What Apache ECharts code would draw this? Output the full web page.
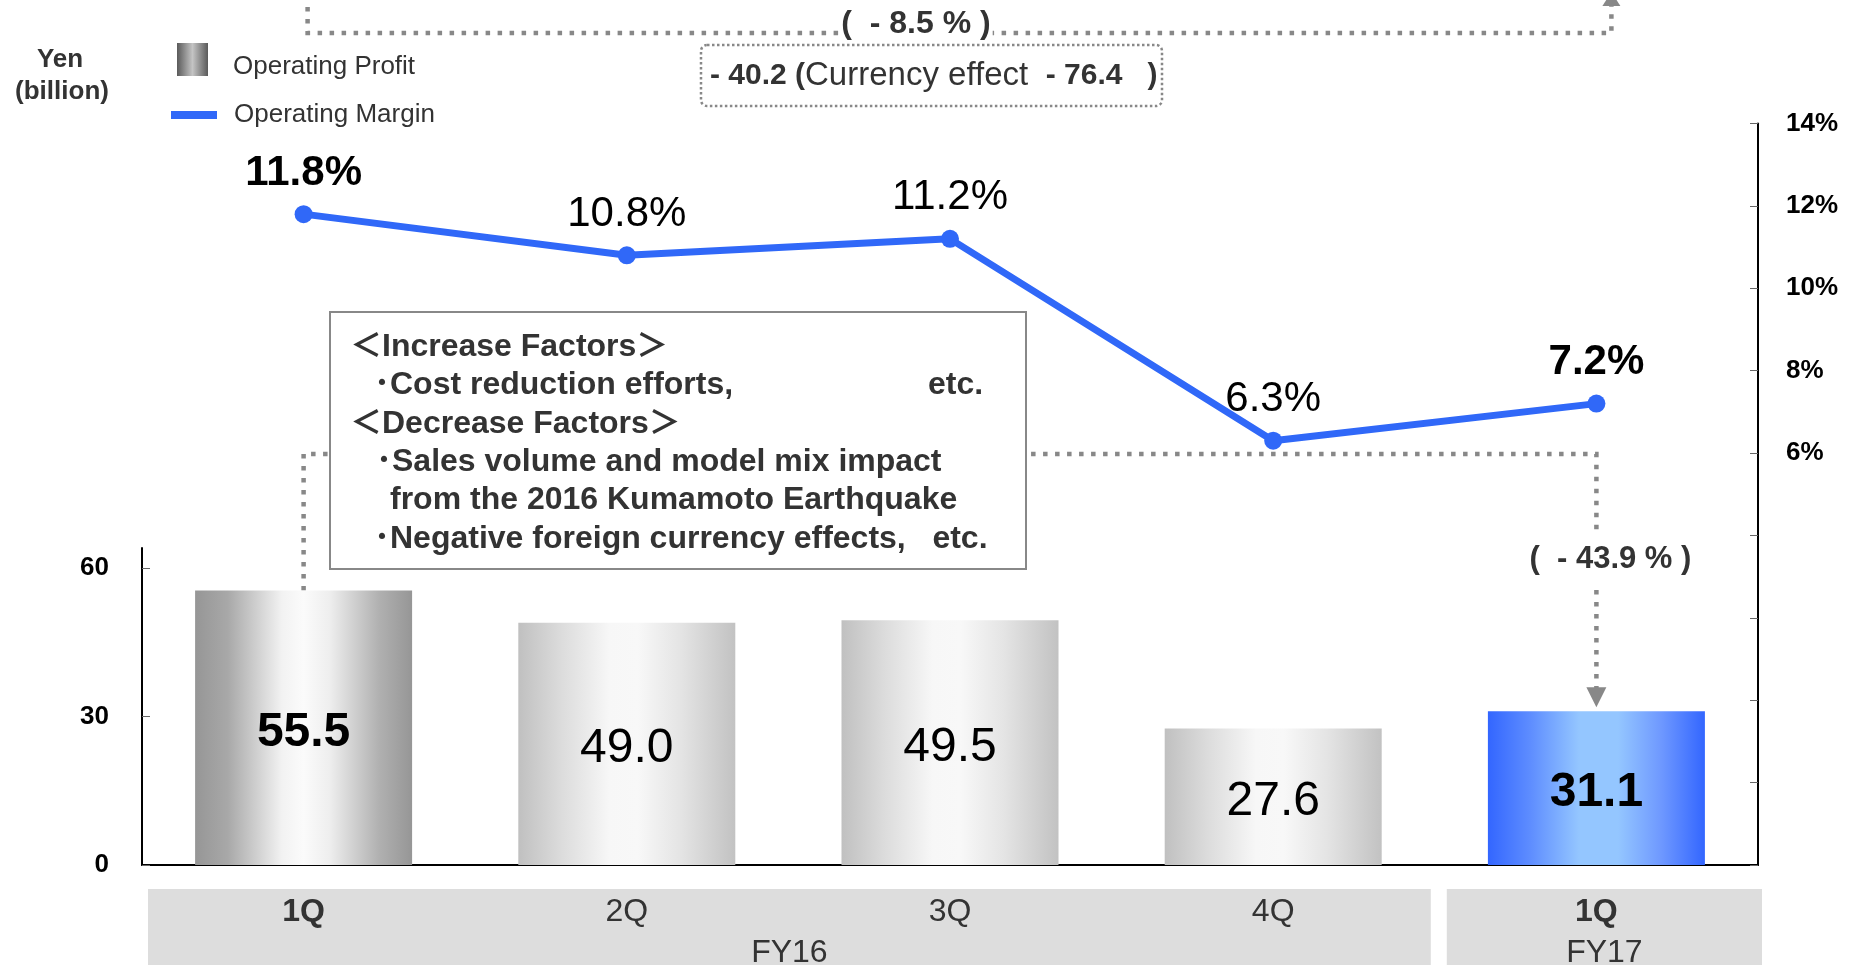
<!DOCTYPE html>
<html>
<head>
<meta charset="utf-8">
<script src="https://cdn.jsdelivr.net/npm/echarts@6.0.0/dist/echarts.min.js"></script>
<style>
  html, body { margin: 0; padding: 0; background: #fff; }
  #main { width: 1863px; height: 965px; }
</style>
</head>
<body>
<div id="main"></div>
<script>
// values
const quarters = ['1Q', '2Q', '3Q', '4Q', '1Q'];
const fiscalYears = ['FY16', 'FY16', 'FY16', 'FY16', 'FY17'];
const operatingProfit = [55.5, 49.0, 49.5, 27.6, 31.1];
const operatingMargin = [11.8, 10.8, 11.2, 6.3, 7.2];
const boldPoints = [0, 4];
const profitTicks = [0, 30, 60];
const marginMin = -4, marginMax = 14, marginStep = 2, marginLabelFrom = 6;

const yearChange = '(  - 8.5 % )';
const quarterChange = '(  - 43.9 % )';
const currencyParts = ['- 40.2 (', 'Currency effect ', ' - 76.4   )'];
const factorLines = [
  '＜Increase Factors＞',
  '･Cost reduction efforts,',
  '＜Decrease Factors＞',
  '･Sales volume and model mix impact',
  'from the 2016 Kumamoto Earthquake',
  '･Negative foreign currency effects,   etc.'
];
const factorEtc = 'etc.';

const FONT = '"Liberation Sans", Arial, "Noto Sans CJK JP", sans-serif';
const BLUE = '#3068f8';
const DOT = '#888888';

function hGrad(stops) {
  return new echarts.graphic.LinearGradient(0, 0, 1, 0,
    stops.map(s => ({offset: s[0], color: s[1]})));
}
const darkGray = hGrad([[0, '#969696'], [0.15, '#a8a8a8'], [0.4, '#f2f2f2'], [0.5, '#fbfbfb'], [0.62, '#eeeeee'], [0.85, '#b0b0b0'], [1, '#969696']]);
const lightGray = hGrad([[0, '#c0c0c0'], [0.2, '#dcdcdc'], [0.42, '#f7f7f7'], [0.55, '#f8f8f8'], [0.75, '#e4e4e4'], [1, '#c2c2c2']]);
const blueGrad = hGrad([[0, '#3366ff'], [0.2, '#5f8eff'], [0.42, '#94c6ff'], [0.6, '#94c6ff'], [0.8, '#6e98ff'], [1, '#3366ff']]);
const legendGray = hGrad([[0, '#5a5a5a'], [0.5, '#c4c4c4'], [1, '#5a5a5a']]);
const barFills = [darkGray, lightGray, lightGray, lightGray, blueGrad];

const chart = echarts.init(document.getElementById('main'));
const categories = quarters.map((q, i) => fiscalYears[i] + ' ' + q);

const option = {
  animation: false,
  textStyle: {fontFamily: FONT},
  legend: [
    {
      data: [{name: 'Operating Profit', icon: 'rect', itemStyle: {color: legendGray}}],
      left: 177, top: 43, padding: 0, itemWidth: 31, itemHeight: 33,
      formatter: name => '{t|' + name + '}',
      textStyle: {
        padding: [0, 0, 0, 20],
        rich: {t: {fontSize: 26, color: '#333', fontFamily: FONT, lineHeight: 40, verticalAlign: 'bottom'}}
      }
    },
    {
      data: [{name: 'Operating Margin', icon: 'rect', itemStyle: {color: BLUE}}],
      left: 171, top: 102, padding: 0, itemWidth: 46, itemHeight: 8,
      textStyle: {fontSize: 26, color: '#333', padding: [0, 0, 0, 12]}
    }
  ],
  grid: [
    {left: 142, right: 105, top: 548, bottom: 100},
    {left: 142, right: 105, top: 123.5, bottom: 100}
  ],
  xAxis: [
    {
      type: 'category', gridIndex: 0, data: categories,
      axisLine: {lineStyle: {color: '#000', width: 2}},
      axisTick: {show: false},
      axisLabel: {
        margin: 31,
        formatter: (v, i) => boldPoints.includes(i) ? '{b|' + quarters[i] + '}' : '{n|' + quarters[i] + '}',
        rich: {
          b: {fontSize: 32, fontWeight: 'bold', color: '#333', fontFamily: FONT},
          n: {fontSize: 32, color: '#333', fontFamily: FONT}
        }
      }
    },
    {type: 'category', gridIndex: 1, data: categories, show: false}
  ],
  yAxis: [
    {
      type: 'value', gridIndex: 0, min: 0, max: 64.1, interval: 30,
      axisLine: {show: true, lineStyle: {color: '#000', width: 2}},
      axisTick: {show: true, inside: true, length: 8, lineStyle: {color: '#666'}, customValues: profitTicks},
      axisLabel: {
        margin: 33, fontSize: 26, fontWeight: 'bold', color: '#000', customValues: profitTicks,
        formatter: v => profitTicks.includes(v) ? String(v) : ''
      },
      splitLine: {show: false}
    },
    {
      type: 'value', gridIndex: 1, position: 'right',
      min: marginMin, max: marginMax, interval: marginStep,
      axisLine: {show: true, lineStyle: {color: '#000', width: 2}},
      axisTick: {show: true, inside: true, length: 8, lineStyle: {color: '#666'}},
      axisLabel: {
        margin: 28, fontSize: 26, fontWeight: 'bold', color: '#000',
        formatter: v => v >= marginLabelFrom ? v + '%' : ''
      },
      splitLine: {show: false}
    }
  ],
  series: [
    {
      name: 'Operating Profit', type: 'bar', xAxisIndex: 0, yAxisIndex: 0,
      barWidth: 217,
      data: operatingProfit.map((v, i) => ({value: v, itemStyle: {color: barFills[i]}})),
      label: {
        show: true, position: 'inside', offset: [0, 5],
        formatter: p => (boldPoints.includes(p.dataIndex) ? '{b|' : '{n|') + p.value.toFixed(1) + '}',
        rich: {
          b: {fontSize: 48, fontWeight: 'bold', color: '#000', fontFamily: FONT},
          n: {fontSize: 48, color: '#000', fontFamily: FONT}
        }
      }
    },
    {
      name: 'Operating Margin', type: 'line', xAxisIndex: 1, yAxisIndex: 1,
      data: operatingMargin,
      symbol: 'circle', symbolSize: 18,
      lineStyle: {color: BLUE, width: 7},
      itemStyle: {color: BLUE},
      z: 4,
      label: {
        show: true, position: 'top', distance: 11,
        formatter: p => (boldPoints.includes(p.dataIndex) ? '{b|' : '{n|') + p.value.toFixed(1) + '%}',
        rich: {
          b: {fontSize: 42, fontWeight: 'bold', color: '#000', fontFamily: FONT},
          n: {fontSize: 42, color: '#000', fontFamily: FONT}
        }
      }
    }
  ]
};
chart.setOption(option);

// annotations placed from the axes
const cx = i => chart.convertToPixel({xAxisIndex: 0}, i);
const by = v => chart.convertToPixel({yAxisIndex: 0}, v);
const band = cx(1) - cx(0);
const dotted = {stroke: DOT, lineWidth: 4.5, lineDash: [4.5, 7.5], fill: null};

function txt(text, x, y, font, opts) {
  return {
    type: 'text', z: 6,
    style: Object.assign({
      text: text, x: x, y: y, font: font, fill: '#333',
      textAlign: 'left', align: 'left', textVerticalAlign: 'middle', verticalAlign: 'middle'
    }, opts || {})
  };
}

const g = [];

// fiscal year boxes under the axis
const groups = [];
fiscalYears.forEach((fy, i) => {
  const last = groups[groups.length - 1];
  if (last && last.name === fy) last.end = i; else groups.push({name: fy, start: i, end: i});
});
groups.forEach((grp, k) => {
  const x0 = cx(grp.start) - band / 2 + (k === 0 ? 6 : 12);
  const x1 = cx(grp.end) + band / 2 + (k === 0 ? -4 : 4);
  g.push({type: 'rect', z: -1, shape: {x: x0, y: 889, width: x1 - x0, height: 80}, style: {fill: '#dddddd'}});
  g.push(txt(grp.name, (x0 + x1) / 2, 953, '32px ' + FONT, {textAlign: 'center', align: 'center'}));
});

// Yen (billion)
g.push(txt('Yen', 60, 60, 'bold 26px ' + FONT, {textAlign: 'center', align: 'center'}));
g.push(txt('(billion)', 62, 92, 'bold 26px ' + FONT, {textAlign: 'center', align: 'center'}));

// year-on-year bracket on top
const tx0 = cx(0) + 4, tx1 = cx(4) + 15, ty = 33;
g.push({type: 'polyline', z: 3, shape: {points: [[tx0, 7], [tx0, ty], [tx1, ty], [tx1, 4]]}, style: dotted});
g.push({type: 'polygon', z: 3, shape: {points: [[tx1 - 9, 6], [tx1 + 9, 6], [tx1, -8]]}, style: {fill: DOT}});
g.push(txt(yearChange, 916, 24, 'bold 32px ' + FONT, {textAlign: 'center', align: 'center', backgroundColor: '#fff', padding: [0, 2]}));

// currency box
const cbx = 701, cby = 45;
g.push({type: 'rect', z: 5, shape: {x: cbx, y: cby, width: 461, height: 61, r: 6},
  style: {fill: '#fff', stroke: DOT, lineWidth: 2.5, lineDash: [2.5, 2.5]}});
g.push({
  type: 'text', z: 6,
  style: {
    text: '{b|' + currencyParts[0] + '}{n|' + currencyParts[1] + '}{b|' + currencyParts[2] + '}',
    x: cbx + 9, y: cby + 31, textVerticalAlign: 'middle', verticalAlign: 'middle',
    rich: {
      b: {fontSize: 30, fontWeight: 'bold', fill: '#333', fontFamily: FONT},
      n: {fontSize: 33, fill: '#333', fontFamily: FONT}
    }
  }
});

// quarter bracket from 1Q FY16 to 1Q FY17
const qy = 454;
const arrowX = cx(4), arrowTip = by(operatingProfit[4]) - 4;
g.push({type: 'polyline', z: 1, shape: {points: [[cx(0), by(operatingProfit[0])], [cx(0), qy], [arrowX, qy], [arrowX, 530]]}, style: dotted});
g.push({type: 'polyline', z: 1, shape: {points: [[arrowX, 590], [arrowX, arrowTip - 18]]}, style: dotted});
g.push({type: 'polygon', z: 1, shape: {points: [[arrowX - 10, arrowTip - 20], [arrowX + 10, arrowTip - 20], [arrowX, arrowTip]]}, style: {fill: DOT}});
g.push(txt(quarterChange, arrowX + 14, 559, 'bold 31px ' + FONT, {textAlign: 'center', align: 'center'}));

// factors box
const fbx = 330, fby = 312;
g.push({type: 'rect', z: 5, shape: {x: fbx, y: fby, width: 696, height: 257}, style: {fill: '#fff', stroke: '#888', lineWidth: 2}});
const indents = [20, 44, 20, 46, 60, 44];
factorLines.forEach((line, i) => {
  g.push(txt(line, fbx + indents[i], fby + 35 + i * 38.4, 'bold 32px ' + FONT));
});
g.push(txt(factorEtc, fbx + 598, fby + 35 + 38.4, 'bold 32px ' + FONT));

chart.setOption({graphic: g});
</script>
</body>
</html>
